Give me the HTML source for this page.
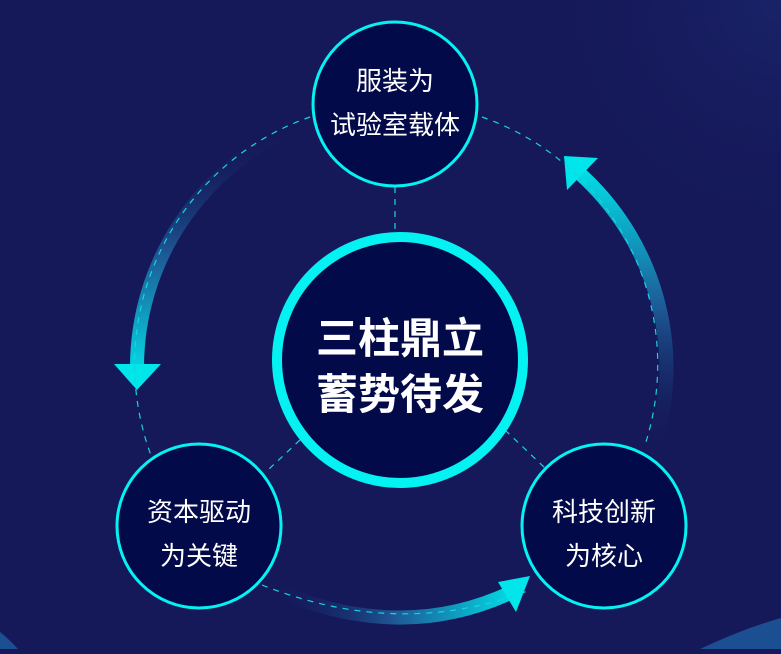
<!DOCTYPE html>
<html><head><meta charset="utf-8"><style>
html,body{margin:0;padding:0;}
body{width:781px;height:649px;overflow:hidden;background:#15195a;font-family:"Liberation Sans","Noto Sans CJK SC",sans-serif;}
</style></head><body>
<svg width="781" height="649" viewBox="0 0 781 649" xmlns="http://www.w3.org/2000/svg">
<defs>
<radialGradient id="tr" cx="781" cy="0" r="250" gradientUnits="userSpaceOnUse">
<stop offset="0" stop-color="#1a2368"/><stop offset="1" stop-color="#15195a" stop-opacity="0"/>
</radialGradient>
<linearGradient id="gl" x1="0" y1="130" x2="0" y2="385" gradientUnits="userSpaceOnUse">
<stop offset="0" stop-color="#15195a" stop-opacity="0"/><stop offset="0.5" stop-color="#1d5c98"/><stop offset="1" stop-color="#00e8ec"/>
</linearGradient>
<linearGradient id="gr" x1="0" y1="450" x2="0" y2="160" gradientUnits="userSpaceOnUse">
<stop offset="0" stop-color="#15195a" stop-opacity="0"/><stop offset="0.5" stop-color="#1d5c98"/><stop offset="1" stop-color="#00e8ec"/>
</linearGradient>
<linearGradient id="gb" x1="270" y1="0" x2="525" y2="0" gradientUnits="userSpaceOnUse">
<stop offset="0" stop-color="#15195a" stop-opacity="0"/><stop offset="0.5" stop-color="#1d5c98"/><stop offset="1" stop-color="#00e8ec"/>
</linearGradient>
</defs>
<rect width="781" height="649" fill="#15195a"/>
<rect width="781" height="649" fill="url(#tr)"/>
<path d="M700 649 Q745 628 781 618 L781 649 Z" fill="#1c4f92"/>
<path d="M0 632 Q10 640 18 649 L0 649 Z" fill="#1c4f92"/>

<path d="M300 125 A262 262 0 0 0 137 368" fill="none" stroke="url(#gl)" stroke-width="14"/>
<polygon points="114,364 161,364 137,390" fill="#00e6ea"/>
<path d="M655 445 A262 262 0 0 0 578 172" fill="none" stroke="url(#gr)" stroke-width="14"/>
<polygon points="564,156 598,158 567,190" fill="#00e6ea"/>
<path d="M270 588 Q400 645 512 592" fill="none" stroke="url(#gb)" stroke-width="14"/>
<polygon points="498,582 530,576 516,612" fill="#00e6ea"/>

<g fill="none" stroke="#19d3e0" stroke-width="1.2" stroke-dasharray="6 6">
<path d="M310 117 A262 262 0 0 0 152 458"/>
<path d="M482 117 A262 262 0 0 1 645 445"/>
<path d="M262 585 Q400 640 530 590"/>
<line x1="395" y1="187" x2="395" y2="237"/>
<line x1="300" y1="440" x2="268" y2="470"/>
<line x1="505" y1="430" x2="545" y2="468"/>
</g>

<circle cx="400" cy="360" r="123" fill="#030a4a" stroke="#05f2f2" stroke-width="10"/>
<circle cx="395" cy="104" r="82" fill="#030a4a" stroke="#05f2f2" stroke-width="3"/>
<circle cx="199" cy="526" r="82" fill="#030a4a" stroke="#05f2f2" stroke-width="3"/>
<circle cx="604" cy="526" r="82" fill="#030a4a" stroke="#05f2f2" stroke-width="3"/>

<g fill="#fff" text-anchor="middle" font-family="'Liberation Sans','Noto Sans CJK SC',sans-serif">
<text x="395" y="90" font-size="26">服装为</text>
<text x="395" y="134" font-size="26">试验室载体</text>
<text x="400" y="353" font-size="42" font-weight="bold">三柱鼎立</text>
<text x="400" y="409" font-size="42" font-weight="bold">蓄势待发</text>
<text x="199" y="521" font-size="26">资本驱动</text>
<text x="199" y="565" font-size="26">为关键</text>
<text x="604" y="521" font-size="26">科技创新</text>
<text x="604" y="565" font-size="26">为核心</text>
</g>
</svg>
</body></html>
